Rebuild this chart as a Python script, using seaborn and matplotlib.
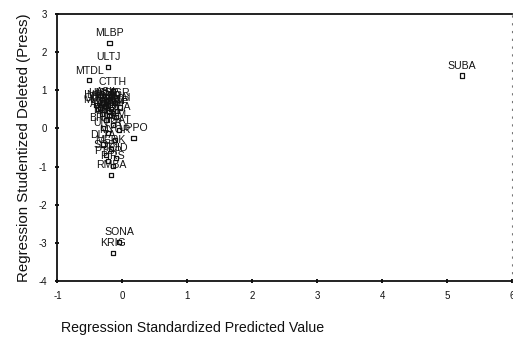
import matplotlib
matplotlib.use("Agg")
import matplotlib.pyplot as plt
import pandas as pd
import seaborn as sns

# case labels with predicted value (x) and studentized deleted residual (y)
names = ["MLBP", "ULTJ", "MTDL", "CTTH", "ASII", "SUBA", "SONA", "KRIG",
         "INDF", "GGRM", "HMSP", "UNVR", "KLBF", "TSPC", "SMGR", "INTP",
         "AALI", "LSIP", "BBCA", "BMRI", "TLKM", "ISAT", "UNTR", "UPPO",
         "MYOR", "DLTA", "MERK", "SQBI", "TCID", "PTSP", "PIRS", "RMBA",
         "MRAT", "SCCO", "KAEF", "INAI", "TKIM", "BRPT"]
pred_x = [-0.20, -0.22, -0.51, -0.15, -0.25, 5.22, -0.05, -0.15,
          -0.40, -0.35, -0.30, -0.28, -0.22, -0.18, -0.12, -0.08,
          -0.32, -0.20, -0.10, -0.25, -0.15, -0.05, -0.22, 0.17,
          -0.12, -0.30, -0.18, -0.25, -0.10, -0.22, -0.15, -0.17,
          -0.38, -0.26, -0.14, -0.04, -0.20, -0.30]
resid_y = [2.24, 1.62, 1.26, 0.97, 0.71, 1.39, -2.97, -3.26,
           0.62, 0.55, 0.68, 0.48, 0.60, 0.52, 0.66, 0.45,
           0.38, 0.35, 0.30, 0.22, 0.10, -0.05, -0.12, -0.26,
           -0.30, -0.42, -0.55, -0.70, -0.78, -0.85, -0.98, -1.22,
           0.50, 0.58, 0.40, 0.55, 0.44, 0.02]

x_ticks = [-1, 0, 1, 2, 3, 4, 5, 6]
y_ticks = [-4, -3, -2, -1, 0, 1, 2, 3]

df = pd.DataFrame({"name": names, "x": pred_x, "y": resid_y})

sns.set_style("ticks")
plt.rcParams["font.family"] = ["Liberation Sans", "DejaVu Sans"]
plt.rcParams["axes.unicode_minus"] = False

fig = plt.figure(figsize=(5.13, 3.43), dpi=100)
ax = fig.add_axes([0.112, 0.181, 0.887, 0.778])

sns.scatterplot(data=df, x="x", y="y", ax=ax, marker="s", s=9,
                facecolor="none", edgecolor="#111111", linewidth=0.9)

for _, row in df.iterrows():
    ax.annotate(row["name"], (row["x"], row["y"]), xytext=(0, 3.5),
                textcoords="offset points", ha="center", va="bottom",
                fontsize=7.6, color="#111111")

ax.set_xlim(-1, 6)
ax.set_ylim(-4, 3)
ax.set_xticks(x_ticks)
ax.set_xticklabels([str(t) for t in x_ticks])
ax.set_yticks(y_ticks)
ax.set_yticklabels([str(t) for t in y_ticks])
ax.tick_params(axis="both", labelsize=7, length=3, width=1.4,
               direction="inout", colors="#111111", pad=6)
for side in ["left", "bottom", "top"]:
    ax.spines[side].set_linewidth(1.3)
    ax.spines[side].set_color("#111111")
ax.spines["right"].set_visible(True)
ax.spines["right"].set_linestyle((0, (1, 6)))
ax.spines["right"].set_color("#777777")

ax.set_xlabel("")
ax.set_ylabel("Regression Studentized Deleted (Press)", fontsize=10.8,
              labelpad=5, color="#111111")
fig.text(0.375, 0.044, "Regression Standardized Predicted Value",
         ha="center", va="center", fontsize=10.2, color="#111111")

fig.savefig("out.png", dpi=100)
